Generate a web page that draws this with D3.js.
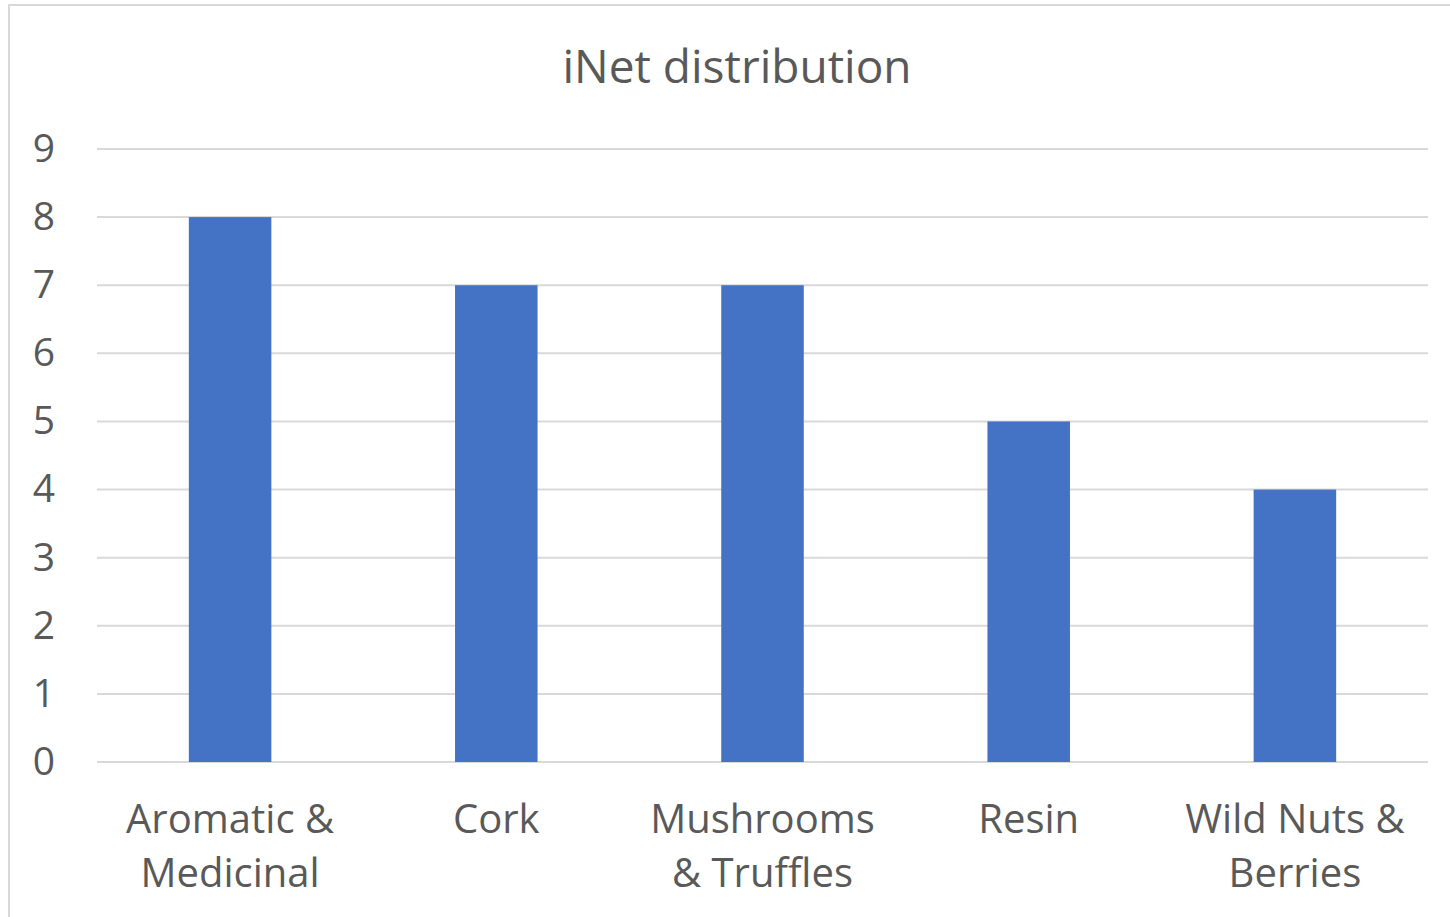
<!DOCTYPE html>
<html>
<head>
<meta charset="utf-8">
<script src="https://cdn.jsdelivr.net/npm/d3@7"></script>
<style>
  html, body { margin: 0; padding: 0; background: #fff; }
  svg { display: block; }
  text { font-variant-ligatures: none; }
</style>
</head>
<body>
<svg id="chart" width="1450" height="917"></svg>
<script>
const categories = [["Aromatic &", "Medicinal"], ["Cork"], ["Mushrooms", "& Truffles"], ["Resin"], ["Wild Nuts &", "Berries"]];
const values = [8, 7, 7, 5, 4];
const yTicks = [0, 1, 2, 3, 4, 5, 6, 7, 8, 9];
const title = "iNet distribution";

const svg = d3.select("#chart");
const W = 1450, H = 917;
const margin = { left: 97, right: 22, top: 149, bottom: 155 };
const font = "'Open Sans', Lato, sans-serif";

// outer chart frame
svg.append("rect")
  .attr("x", 9).attr("y", 5)
  .attr("width", W + 10).attr("height", H + 10)
  .attr("fill", "#fff").attr("stroke", "#d9d9d9").attr("stroke-width", 2);

const keys = categories.map((c, i) => i);
const x = d3.scaleBand().domain(keys).range([margin.left, W - margin.right]).paddingInner(0.69).paddingOuter(0.345);
const y = d3.scaleLinear().domain([0, 9]).range([H - margin.bottom, margin.top]);

// horizontal gridlines
svg.append("g").selectAll("line").data(yTicks).join("line")
  .attr("x1", margin.left).attr("x2", W - margin.right)
  .attr("y1", d => y(d)).attr("y2", d => y(d))
  .attr("stroke", "#d9d9d9").attr("stroke-width", 2);

// y tick labels
svg.append("g").selectAll("text").data(yTicks).join("text")
  .attr("x", 55).attr("y", d => y(d))
  .attr("dy", "0.33em")
  .attr("text-anchor", "end")
  .attr("font-family", font).attr("font-size", 39).attr("fill", "#595959")
  .text(d => d);

// bars
svg.append("g").selectAll("rect").data(values).join("rect")
  .attr("x", (d, i) => x(i))
  .attr("width", x.bandwidth())
  .attr("y", d => y(d))
  .attr("height", d => y(0) - y(d))
  .attr("fill", "#4472c4");

// category labels
const xl = svg.append("g").selectAll("text").data(categories).join("text")
  .attr("text-anchor", "middle")
  .attr("font-family", font).attr("font-size", 40).attr("fill", "#595959");
xl.each(function(lines, i) {
  const t = d3.select(this);
  lines.forEach((ln, j) => {
    t.append("tspan")
      .attr("x", x(i) + x.bandwidth() / 2)
      .attr("y", 833 + j * 54)
      .text(ln);
  });
});

// title
svg.append("text")
  .attr("x", 737).attr("y", 83)
  .attr("text-anchor", "middle")
  .attr("font-family", font).attr("font-size", 46).attr("fill", "#595959")
  .text(title);
</script>
</body>
</html>
